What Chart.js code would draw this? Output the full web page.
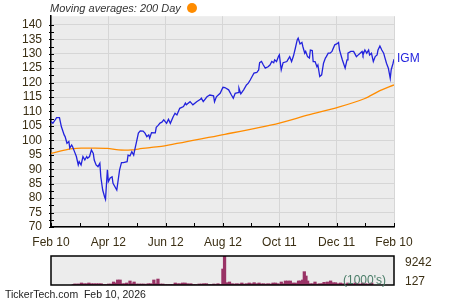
<!DOCTYPE html>
<html><head><meta charset="utf-8">
<script src="https://cdn.jsdelivr.net/npm/chart.js@4.4.1/dist/chart.umd.min.js"></script>
<style>
html,body{margin:0;padding:0;background:#fff;width:450px;height:300px;overflow:hidden;font-family:"Liberation Sans",Arial,sans-serif;}
canvas{position:absolute;left:0;}
#main{top:0;}
#vol{top:250px;}
.t{position:absolute;white-space:nowrap;}
</style></head><body>
<canvas id="main" width="450" height="252"></canvas>
<canvas id="vol" width="450" height="40"></canvas>
<div class="t" style="left:50px;top:0px;font-style:italic;font-size:11px;line-height:16px;color:#333">Moving averages: 200 Day</div>
<div class="t" style="left:187px;top:3px;width:10px;height:10px;border-radius:50%;background:#ff8c00"></div>
<div class="t" style="left:397px;top:51px;font-size:12px;line-height:14px;color:#2222dd">IGM</div>
<div class="t" style="left:343px;top:273px;font-size:12px;line-height:14px;color:#4a7d68">(1000's)</div>
<div class="t" style="left:5px;top:288px;font-size:10.5px;line-height:12px;color:#222">TickerTech.com&nbsp; Feb 10, 2026</div>
<script>
// ---- data ----
const priceDays = [0,2,6,9,11,14,15,17,19,20,
  22,23,25,27,29,30,32,34,36,38,
  39,41,43,45,46,48,50,52,53,55,
  57,58,60,61,63,65,66,70,73,75,
  77,81,82,84,86,88,89,91,93,95,
  98,100,102,104,105,107,111,112,114,116,
  118,120,123,125,127,130,132,134,137,141,
  143,144,148,151,155,159,160,162,166,169,
  173,174,176,178,180,183,185,189,192,194,
  196,199,200,202,205,208,210,212,214,216,
  219,221,222,224,226,228,231,233,235,237,
  238,240,242,243,245,247,251,252,254,256,
  258,260,262,263,265,267,268,270,271,273,
  275,276,278,279,281,283,284,286,288,290,
  292,293,295,297,299,300,302,304,306,307,
  310,313,315,316,319,322,323,325,327,329,
  331,332,334,336,338,339,341,343,345,347,
  348,350,352,354,355,357,359,361,362,364,
  365];
const priceVals = [106.5,105.9,107.9,107.9,104.8,101.9,101.3,99,99.6,97.3,
  98.4,97.8,96.1,94.4,91.5,92.6,91.5,94.4,93.2,94.4,
  93.8,94.4,96.7,95.5,93.2,91.5,90.9,92.1,87.4,82.8,
  80.5,79.6,89.8,85.7,87,87.4,85.1,82.8,89.8,92.3,
  92.3,92.6,94.9,94.6,96.1,94.9,96.5,99.5,102.5,103.3,
  103.2,102.5,101.3,101.9,100.8,102.7,102.6,104.5,105.2,106,
  106.3,107.1,105.9,107.3,105.9,108.2,109.4,108.8,111.1,111.7,
  112.9,112.3,113.4,112.3,113.4,114.2,114.6,113.4,115.1,115.7,
  115.4,113.4,115.1,115.7,116.3,118.4,118.3,117.5,115.7,114.6,
  116.3,116.5,118.1,116.1,117.5,119.2,119.8,120.9,122.1,123.3,
  123.5,124.4,126.9,127.3,126.1,125,125.5,126.1,127.3,126.9,
  127.9,127.3,129,129.6,124.4,126.9,127.3,127.9,129,127.3,
  129.2,131.9,134.8,135.4,133.4,133.9,132.5,130.2,130.8,129,
  128.5,131.3,131.1,127.3,127.3,125.5,126.1,122.1,122.7,126.7,
  128.5,129,130.2,130.2,130.8,131.6,133.1,133.4,133.9,131.3,
  127.9,125,127.9,130.2,130.8,130.8,130.2,129,129.6,130.2,
  130.8,129.6,131.3,130.2,131.3,129.6,130.2,127.3,129,129.6,
  131.3,132.7,131.3,130.2,129,126.7,125,121.5,124.4,126.7,
  128.1];
const maDays = [0,18,32,43,60,72,86,93,107,121,185,221,244,274,306,334,348,365];
const maVals = [95.5,96.9,97.3,97.3,97.2,96.7,96.7,97,97.6,98.1,102.1,104.4,106.1,108.8,111.5,114.5,116.9,119.2];
const volDays = [1,3,5,7,9,11,14,17,20,23,26,29,32,35,38,41,44,47,50,52,
  55,58,61,64,66,70,73,75,78,81,84,87,90,92,95,99,101,104,107,110,
  113,116,119,122,125,128,131,134,137,140,143,144,147,150,154,157,160,163,166,169,
  172,175,177,180,183,185,188,191,194,197,200,203,206,209,212,215,218,221,224,227,
  230,232,235,238,241,244,247,250,254,257,259,262,265,268,271,275,277,280,282,284,
  286,289,292,295,298,301,304,306,308,310,314,317,320,323,326,329,332,335,338,341,
  344,347,350,353,356,359,362,364];
const volVals = [150,350,150,350,150,640,420,420,640,420,420,420,420,420,150,150,320,320,960,640,
  1600,1600,420,420,640,1280,420,960,320,320,320,320,150,420,420,1600,420,1900,320,320,
  150,150,150,150,640,420,420,640,640,420,150,420,150,150,320,320,420,420,150,150,
  320,150,420,150,5100,9242,740,960,420,320,420,320,640,320,420,640,420,740,420,640,
  320,420,320,420,320,640,640,420,960,420,1280,1280,1280,640,640,1280,1280,1600,4250,2870,
  1280,420,420,960,320,420,420,860,320,960,1300,740,740,420,640,420,320,640,420,320,
  640,420,320,640,420,320,420,640];
const xTickDays = [0,61,122,183,243,304,365];
const xTickLabels = ['Feb 10','Apr 12','Jun 12','Aug 12','Oct 11','Dec 11','Feb 10'];
const yMin = 70, yMax = 143, yLabelStep = 5, yMinorStep = 2.5;
const volTicks = [127, 9242];

// ---- style ----
const FONT = '"Liberation Sans", Arial, sans-serif';
const TXT = '#3b2f14';
const GRID = '#d6d6d6';
const PLOTBG = '#ececec';

const plotBg = {
  id: 'plotBg',
  beforeDraw(chart) {
    const a = chart.chartArea, c = chart.ctx;
    c.save(); c.fillStyle = PLOTBG; c.fillRect(a.left, a.top, a.right - a.left, a.bottom - a.top); c.restore();
  }
};
const innerTicks = {
  id: 'innerTicks',
  afterDraw(chart) {
    const a = chart.chartArea, c = chart.ctx, xs = chart.scales.x, ys = chart.scales.y;
    c.save(); c.strokeStyle = '#000'; c.lineWidth = 1; c.beginPath();
    const xv = [];
    for (let i = 0; i < xTickDays.length; i++) {
      xv.push(xTickDays[i]);
      if (i < xTickDays.length - 1) xv.push((xTickDays[i] + xTickDays[i + 1]) / 2);
    }
    xv.forEach(v => { const p = Math.round(xs.getPixelForValue(v)) + 0.5; c.moveTo(p, a.bottom); c.lineTo(p, a.bottom - 4); });
    for (let v = yMin; v <= 140; v += yMinorStep) {
      const p = Math.round(ys.getPixelForValue(v)) + 0.5; c.moveTo(a.left - 2, p); c.lineTo(a.left + 3, p);
    }
    c.stroke(); c.restore();
  }
};

new Chart(document.getElementById('main'), {
  type: 'line',
  data: {
    datasets: [
      { data: priceDays.map((d, i) => ({ x: d, y: priceVals[i] })), borderColor: '#2222dd', borderWidth: 1.3, pointRadius: 0, tension: 0, order: 1 },
      { data: maDays.map((d, i) => ({ x: d, y: maVals[i] })), borderColor: '#ff8c00', borderWidth: 1.3, pointRadius: 0, tension: 0.3, order: 2 }
    ]
  },
  options: {
    responsive: false, animation: false, events: [],
    layout: { padding: { top: 16, right: 56, left: 0, bottom: 0 } },
    plugins: { legend: { display: false }, tooltip: { enabled: false } },
    scales: {
      x: {
        type: 'linear', min: 0, max: 365,
        afterBuildTicks: s => { s.ticks = xTickDays.map(v => ({ value: v })); },
        afterFit: s => { s.height = 25; },
        ticks: { autoSkip: false, maxRotation: 0, padding: 8, color: TXT, font: { family: FONT, size: 12 },
          callback: (v, i) => xTickLabels[i] },
        grid: { color: GRID, drawTicks: false },
        border: { color: '#000', width: 1.5 }
      },
      y: {
        type: 'linear', min: yMin, max: yMax,
        afterBuildTicks: s => { const t = []; for (let v = yMin; v <= 140; v += yLabelStep) t.push({ value: v }); s.ticks = t; },
        afterFit: s => { s.width = 51; },
        ticks: { autoSkip: false, padding: 9, color: TXT, font: { family: FONT, size: 12 } },
        grid: { color: GRID, drawTicks: false },
        border: { color: '#000', width: 1.5 }
      }
    }
  },
  plugins: [plotBg, innerTicks]
});

const volFrame = {
  id: 'volFrame',
  beforeDraw(chart) {
    const a = chart.chartArea, c = chart.ctx;
    c.save(); c.fillStyle = PLOTBG; c.fillRect(a.left, a.top, a.right - a.left, a.bottom - a.top); c.restore();
  },
  afterDraw(chart) {
    const a = chart.chartArea, c = chart.ctx;
    c.save(); c.strokeStyle = '#000'; c.lineWidth = 1.5; c.strokeRect(a.left, a.top, a.right - a.left, a.bottom - a.top); c.restore();
  }
};

new Chart(document.getElementById('vol'), {
  type: 'bar',
  data: { datasets: [{ data: volDays.map((d, i) => ({ x: d, y: volVals[i] })), backgroundColor: '#993366', barThickness: 2.6 }] },
  options: {
    responsive: false, animation: false, events: [],
    layout: { padding: { top: 6, right: 0, left: 51, bottom: 5 } },
    plugins: { legend: { display: false }, tooltip: { enabled: false } },
    scales: {
      x: { type: 'linear', min: 0, max: 365, display: false },
      y: {
        position: 'right', min: 0, max: volTicks[1],
        afterBuildTicks: s => { s.ticks = volTicks.map(v => ({ value: v })); },
        afterFit: s => { s.width = 56; s.paddingTop = 0; s.paddingBottom = 0; },
        grid: { display: false }, border: { display: false },
        ticks: {
          autoSkip: false, padding: 3, color: TXT,
          font: c => ({ family: FONT, size: 12, lineHeight: (c.tick && c.tick.value === volTicks[0]) ? 0.48 : 1.12 }),
          callback: v => v === volTicks[0] ? [String(v), ''] : ['', String(v)]
        }
      }
    }
  },
  plugins: [volFrame]
});
</script>
</body></html>
